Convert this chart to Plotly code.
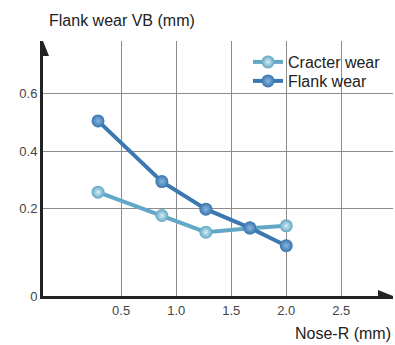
import plotly.graph_objects as go

nose_r = [0.29, 0.87, 1.27, 1.67, 2.0]
cracter_wear = [0.257, 0.176, 0.118, 0.132, 0.140]
flank_wear = [0.505, 0.294, 0.198, 0.133, 0.071]

x_ticks = [0.5, 1.0, 1.5, 2.0, 2.5]
x_labels = ["0.5", "1.0", "1.5", "2.0", "2.5"]
y_ticks = [-0.104, 0.2, 0.4, 0.6]
y_labels = ["0", "0.2", "0.4", "0.6"]

W, H = 395, 345
L, R, T, B = 43, 2, 41, 49

fig = go.Figure()
fig.add_trace(go.Scatter(
    x=nose_r, y=cracter_wear, name="Cracter wear", mode="lines+markers",
    line=dict(color="#62a8c6", width=4), legend="legend",
    marker=dict(size=13, color="#5fa6c4", line=dict(width=0),
                gradient=dict(type="radial", color="#d6edf4")),
))
fig.add_trace(go.Scatter(
    x=nose_r, y=flank_wear, name="Flank wear", mode="lines+markers",
    line=dict(color="#3b77b1", width=4), legend="legend2",
    marker=dict(size=13, color="#3a74ae", line=dict(width=0),
                gradient=dict(type="radial", color="#86b8df")),
))

def px(p):
    return (p - L) / (W - L - R)

def py(p):
    return (H - B - p) / (H - T - B)

shapes = [
    dict(type="path", xref="paper", yref="paper",
         path=f"M {px(43)} {py(41)} L {px(49)} {py(56)} L {px(43)} {py(56)} Z",
         fillcolor="#222", line=dict(width=0)),
    dict(type="path", xref="paper", yref="paper",
         path=f"M {px(378)} {py(290)} L {px(393)} {py(296)} L {px(378)} {py(296)} Z",
         fillcolor="#222", line=dict(width=0)),
]

leg_common = dict(xanchor="left", yanchor="top", bgcolor="rgba(255,255,255,0)",
                  font=dict(size=16, color="#222"), itemwidth=30)

fig.update_layout(
    width=W, height=H,
    margin=dict(l=L, r=R, t=T, b=B),
    plot_bgcolor="white", paper_bgcolor="white",
    font=dict(family="Liberation Sans, Arial, sans-serif", color="#333"),
    showlegend=True,
    legend=dict(x=px(248), y=py(45), **leg_common),
    legend2=dict(x=px(248), y=py(64), **leg_common),
    shapes=shapes,
    annotations=[
        dict(text="Flank wear VB (mm)", xref="paper", yref="paper",
             x=px(47), y=py(20), xanchor="left", yanchor="middle",
             showarrow=False, font=dict(size=16, color="#222")),
        dict(text="Nose-R (mm)", xref="paper", yref="paper",
             x=px(393), y=py(333), xanchor="right", yanchor="middle",
             showarrow=False, font=dict(size=16, color="#222")),
    ],
)
fig.update_xaxes(range=[-0.21, 2.97], tickvals=x_ticks, ticktext=x_labels,
                 showgrid=True, gridcolor="#8c8c8c", gridwidth=1,
                 showline=True, linecolor="#222", linewidth=3,
                 zeroline=False, ticks="", tickfont=dict(size=13, color="#444"))
fig.update_yaxes(range=[-0.104, 0.783], tickvals=y_ticks, ticktext=y_labels,
                 showgrid=True, gridcolor="#8c8c8c", gridwidth=1,
                 showline=True, linecolor="#222", linewidth=3,
                 zeroline=False, ticks="", tickfont=dict(size=13, color="#444"))

fig.write_html("out.html", config={"displayModeBar": False},
               post_script="document.body.style.margin='0';")
